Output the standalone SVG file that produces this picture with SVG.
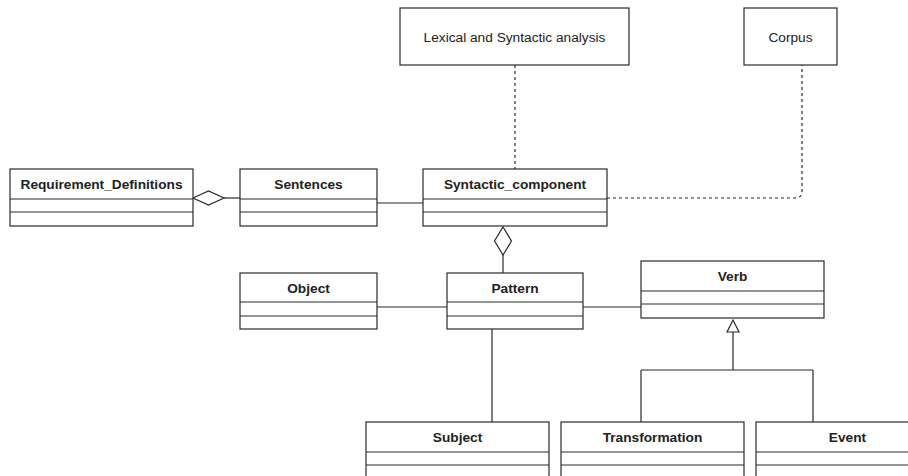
<svg xmlns="http://www.w3.org/2000/svg" width="908" height="476" viewBox="0 0 908 476">
<style>
.box{fill:#fff;stroke:#2b2b2b;stroke-width:1.2}
.ln{fill:none;stroke:#2b2b2b;stroke-width:1.2}
.dash{fill:none;stroke:#2b2b2b;stroke-width:1.2;stroke-dasharray:3 3}
.t{font-family:"Liberation Sans",Arial,sans-serif;font-size:13.7px;fill:#222;text-anchor:middle}
.b{font-weight:bold}
</style>
<rect width="908" height="476" fill="#fff"/>
<g id="connectors">
<line class="ln" x1="224" y1="198" x2="240" y2="198"/>
<polygon class="box" points="193,198 208.5,191 224,198 208.5,205"/>
<line class="ln" x1="377" y1="203" x2="423" y2="203"/>
<path class="dash" d="M515,65 V169"/>
<path class="dash" d="M607,198 H795 Q802,198 802,191 V65"/>
<line class="ln" x1="503" y1="255" x2="503" y2="273"/>
<polygon class="box" points="503,227 511.5,241 503,255 494.5,241"/>
<line class="ln" x1="377" y1="307" x2="447" y2="307"/>
<line class="ln" x1="583" y1="307" x2="641" y2="307"/>
<line class="ln" x1="492" y1="329" x2="492" y2="422"/>
<path class="ln" d="M733,332 V370 M641,370 H813 M641,370 V422 M813,370 V422"/>
<polygon class="box" points="733,320 739,332 727,332"/>
</g>
<g id="lexical">
<rect class="box" x="400" y="8" width="229" height="57"/>
<text class="t" x="514.5" y="41.5">Lexical and Syntactic analysis</text>
</g>
<g id="corpus">
<rect class="box" x="744" y="8" width="93" height="57"/>
<text class="t" x="790.5" y="41.5">Corpus</text>
</g>
<g id="requirement_definitions">
<rect class="box" x="10" y="169" width="183" height="57"/>
<path class="ln" d="M10,199 H193 M10,212 H193"/>
<text class="t b" x="101.5" y="189">Requirement_Definitions</text>
</g>
<g id="sentences">
<rect class="box" x="240" y="169" width="137" height="57"/>
<path class="ln" d="M240,199 H377 M240,212 H377"/>
<text class="t b" x="308.5" y="189">Sentences</text>
</g>
<g id="syntactic_component">
<rect class="box" x="423" y="169" width="184" height="57"/>
<path class="ln" d="M423,199 H607 M423,212 H607"/>
<text class="t b" x="515" y="189">Syntactic_component</text>
</g>
<g id="object">
<rect class="box" x="240" y="273" width="137" height="56"/>
<path class="ln" d="M240,302 H377 M240,316 H377"/>
<text class="t b" x="308.5" y="293">Object</text>
</g>
<g id="pattern">
<rect class="box" x="447" y="273" width="136" height="56"/>
<path class="ln" d="M447,302 H583 M447,316 H583"/>
<text class="t b" x="515" y="293">Pattern</text>
</g>
<g id="verb">
<rect class="box" x="641" y="261" width="183" height="57"/>
<path class="ln" d="M641,291 H824 M641,304 H824"/>
<text class="t b" x="732.5" y="281">Verb</text>
</g>
<g id="subject">
<rect class="box" x="366" y="422" width="183" height="70"/>
<path class="ln" d="M366,452 H549 M366,465 H549"/>
<text class="t b" x="457.5" y="442">Subject</text>
</g>
<g id="transformation">
<rect class="box" x="561" y="422" width="183" height="70"/>
<path class="ln" d="M561,452 H744 M561,465 H744"/>
<text class="t b" x="652.5" y="442">Transformation</text>
</g>
<g id="event">
<rect class="box" x="756" y="422" width="183" height="70"/>
<path class="ln" d="M756,452 H939 M756,465 H939"/>
<text class="t b" x="847.5" y="442">Event</text>
</g>
</svg>
